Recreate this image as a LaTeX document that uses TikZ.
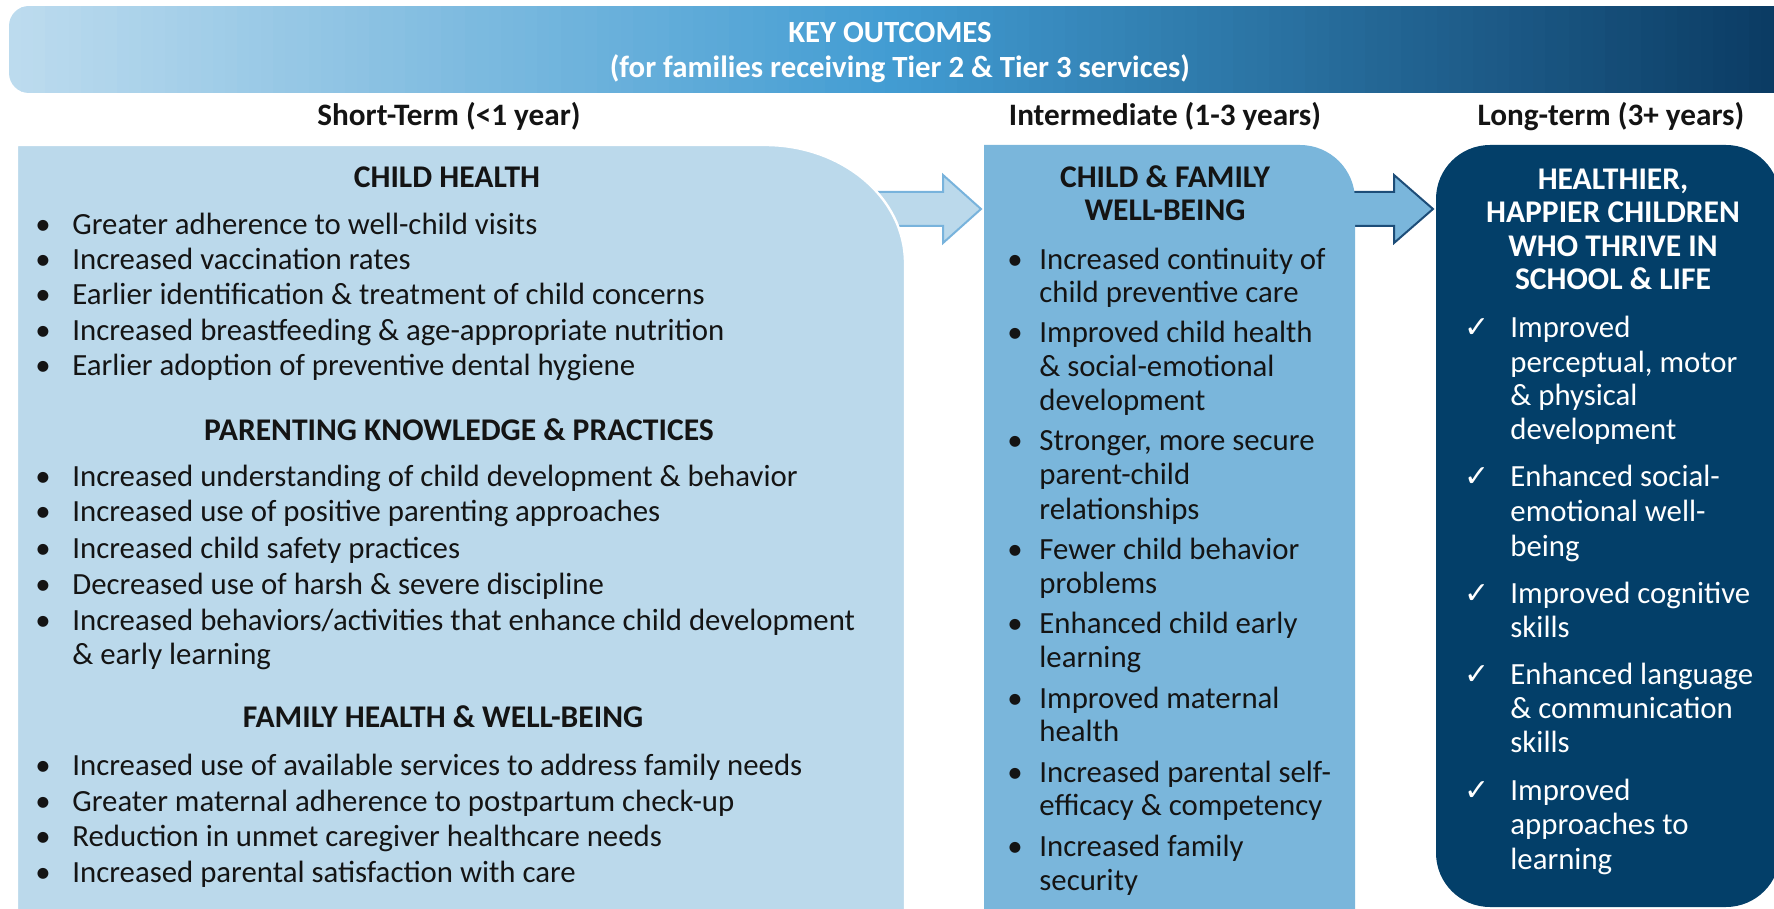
\documentclass[tikz,border=0pt]{standalone}
\usepackage{fontspec}
\setmainfont{Carlito}
\newfontfamily\symfont{DejaVu Sans}
\usetikzlibrary{positioning}
\definecolor{ink}{HTML}{141414}
\definecolor{paleblue}{HTML}{BBD9EB}
\definecolor{midblue}{HTML}{7AB6DB}
\definecolor{navy}{HTML}{033F69}
\definecolor{paleedge}{HTML}{78B3DC}
\definecolor{navyedge}{HTML}{1D4D78}
\definecolor{bandleft}{HTML}{BCDBEE}
\definecolor{bandmid}{HTML}{429CD2}
\definecolor{bandright}{HTML}{0A3A62}

\begin{document}
\begin{tikzpicture}[x=0.5pt, y=-0.5pt,
  txt/.style={font=\fontsize{15.4}{18}\selectfont, text=ink, inner sep=0pt, anchor=base west},
  dot/.style={txt, anchor=base},
  boxhead/.style={font=\fontsize{15.8}{18}\selectfont\bfseries, text=ink, inner sep=0pt, anchor=base},
  colhead/.style={font=\fontsize{15.6}{18}\selectfont\bfseries, text=ink, inner sep=0pt, anchor=base},
  bandtext/.style={font=\fontsize{15.4}{18}\selectfont\bfseries, text=white, inner sep=0pt, anchor=base},
  wtxt/.style={txt, text=white},
  whead/.style={boxhead, text=white},
  tick/.style={font=\symfont\fontsize{15}{18}\selectfont, text=white, inner sep=0pt, anchor=base}]
  \useasboundingbox (0,0) rectangle (1774,909);
  \clip (0,0) rectangle (1774,909);

  % banner, shaded in thin strips
  \begin{scope}
    \clip[rounded corners=10pt] (9,6) rectangle (1800,93);
    \foreach \k in {0,...,73}{
      \pgfmathtruncatemacro\p{100*\k/73}
      \fill[bandmid!\p!bandleft] (9+12*\k,6) rectangle (22+12*\k,93);
    }
    \foreach \k in {0,...,74}{
      \pgfmathtruncatemacro\p{100*\k/74}
      \fill[bandright!\p!bandmid] (885+12*\k,6) rectangle (898+12*\k,93);
    }
  \end{scope}
  \node[bandtext] (title) at (890,43) {KEY OUTCOMES};
  \node[bandtext] (subtitle) at (900,78) {(for families receiving Tier 2 \& Tier 3 services)};

  % column headings
  \node[colhead] (shortterm) at (449,126) {Short-Term (<1 year)};
  \node[colhead] (midterm) at (1165,126) {Intermediate (1-3 years)};
  \node[colhead] (longterm) at (1611,126) {Long-term (3+ years)};

  % block arrows sit behind the boxes
  \coordinate (arrA) at (875,209);
  \coordinate (arrB) at (1352,209);
  \filldraw[fill=paleblue, draw=paleedge, line width=1pt]
    (arrA) ++(0,-17) -- ++(68,0) -- ++(0,-17) -- ++(38,34) -- ++(-38,34) -- ++(0,-17) -- ++(-68,0) -- cycle;
  \filldraw[fill=midblue, draw=navyedge, line width=1pt]
    (arrB) ++(0,-17) -- ++(42,0) -- ++(0,-17) -- ++(39,34) -- ++(-39,34) -- ++(0,-17) -- ++(-42,0) -- cycle;

  % the three boxes
  \filldraw[fill=paleblue, draw=white, line width=1.2pt]
    (17,915) -- (17,145) -- (765,145) arc[start angle=90, end angle=0, x radius=70pt, y radius=59pt] -- (905,915) -- cycle;
  \fill[midblue]
    (984,915) -- (984,145) -- (1300,145) arc[start angle=90, end angle=0, radius=27.5pt] -- (1355,915) -- cycle;
  \fill[navy, rounded corners=27pt] (1436,145) rectangle (1780,907);

  % short-term box
  \node[boxhead] (childhealth) at (447,188) {CHILD HEALTH};
  \node[boxhead] (parenting) at (459,441) {PARENTING KNOWLEDGE \& PRACTICES};
  \node[boxhead] (familyhealth) at (443,727) {FAMILY HEALTH \& WELL-BEING};
  \foreach \y/\t [count=\i] in {235/{Greater adherence to well-child visits},
      270/{Increased vaccination rates},
      305/{Earlier identification \& treatment of child concerns},
      341/{Increased breastfeeding \& age-appropriate nutrition},
      376/{Earlier adoption of preventive dental hygiene},
      487/{Increased understanding of child development \& behavior},
      522/{Increased use of positive parenting approaches},
      558/{Increased child safety practices},
      594/{Decreased use of harsh \& severe discipline},
      630/{Increased behaviors/activities that enhance child development},
      664/{\& early learning},
      775/{Increased use of available services to address family needs},
      811/{Greater maternal adherence to postpartum check-up},
      846/{Reduction in unmet caregiver healthcare needs},
      882/{Increased parental satisfaction with care}}
    \node[txt] (short\i) at (72,\y) {\t};
  \foreach \y in {235,270,305,341,376,487,522,558,594,630,775,811,846,882}
    \node[dot] at (43,\y) {\textbullet};

  % intermediate box
  \node[boxhead] (wellbeing1) at (1165,188) {CHILD \& FAMILY};
  \node[boxhead] (wellbeing2) at (1165,221) {WELL-BEING};
  \foreach \y/\t [count=\i] in {270/{Increased continuity of},
      303/{child preventive care},
      343/{Improved child health},
      377/{\& social-emotional},
      411/{development},
      451/{Stronger, more secure},
      485/{parent-child},
      519/{relationships},
      559/{Fewer child behavior},
      593/{problems},
      633/{Enhanced child early},
      667/{learning},
      708/{Improved maternal},
      741/{health},
      782/{Increased parental self-},
      815/{efficacy \& competency},
      856/{Increased family},
      890/{security}}
    \node[txt] (mid\i) at (1039,\y) {\t};
  \foreach \y in {270,343,451,559,633,708,782,856}
    \node[dot] at (1015,\y) {\textbullet};

  % long-term box
  \foreach \y/\t [count=\i] in {190/{HEALTHIER,}, 223/{HAPPIER CHILDREN}, 257/{WHO THRIVE IN}, 290/{SCHOOL \& LIFE}}
    \node[whead] (goal\i) at (1613,\y) {\t};
  \foreach \y/\t [count=\i] in {338/{Improved},
      372/{perceptual, motor},
      406/{\& physical},
      440/{development},
      487/{Enhanced social-},
      522/{emotional well-},
      556/{being},
      603/{Improved cognitive},
      637/{skills},
      684/{Enhanced language},
      718/{\& communication},
      752/{skills},
      800/{Improved},
      834/{approaches to},
      869/{learning}}
    \node[wtxt] (long\i) at (1510,\y) {\t};
  \foreach \y in {338,487,603,684,800}
    \node[tick] at (1477,\y) {✓};
\end{tikzpicture}
\end{document}
